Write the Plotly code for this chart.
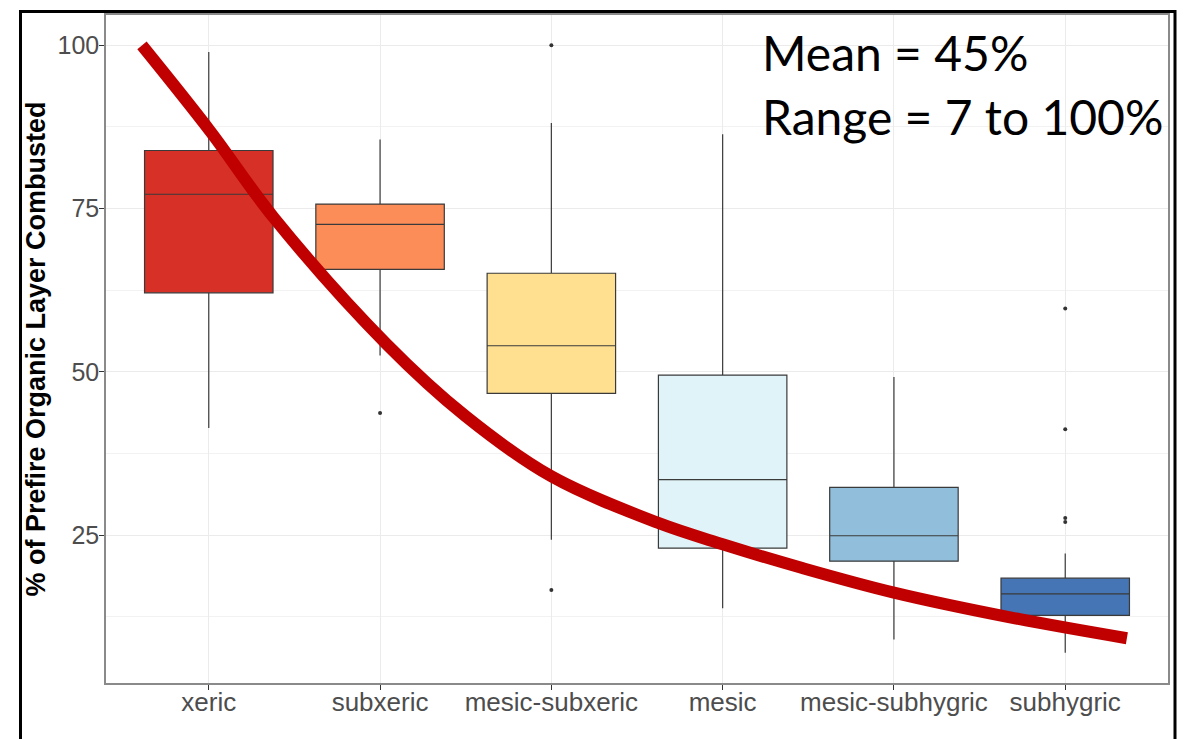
import plotly.graph_objects as go

categories = ["xeric", "subxeric", "mesic-subxeric", "mesic", "mesic-subhygric", "subhygric"]
q1 = [62.1, 65.7, 46.7, 23.0, 21.0, 12.7]
median = [77.2, 72.6, 54.0, 33.5, 24.9, 16.0]
q3 = [83.9, 75.7, 65.1, 49.5, 32.3, 18.4]
lower_whisker = [41.4, 52.5, 24.3, 13.8, 9.0, 7.0]
upper_whisker = [99.0, 85.6, 88.1, 86.4, 49.2, 22.2]
outliers = [[], [43.7], [100.0, 16.6], [], [], [59.7, 41.2, 27.6, 27.0]]
fill_colors = ["#D73027", "#FC8D59", "#FEE090", "#E0F3F8", "#91BFDB", "#4575B4"]

# fitted curve (x in category-position units)
curve_x = [-0.39, 0.01, 0.38, 1.04, 1.5, 2.0, 2.62, 3.0, 3.46, 4.0, 4.7, 5.36]
curve_y = [100.0, 86.8, 73.6, 54.2, 43.2, 34.0, 26.9, 23.6, 20.0, 16.2, 12.3, 9.2]

y_ticks = [25, 50, 75, 100]
y_minor = [12.5, 37.5, 62.5, 87.5]

fig = go.Figure()
for i, cat in enumerate(categories):
    fig.add_trace(go.Box(
        x=[i], q1=[q1[i]], median=[median[i]], q3=[q3[i]],
        lowerfence=[lower_whisker[i]], upperfence=[upper_whisker[i]],
        width=0.75, whiskerwidth=0, fillcolor=fill_colors[i],
        line=dict(color="#3a3a3a", width=1.2), boxpoints=False,
        name=cat, showlegend=False,
    ))
    if outliers[i]:
        fig.add_trace(go.Scatter(
            x=[i] * len(outliers[i]), y=outliers[i], mode="markers",
            marker=dict(color="#333333", size=4), showlegend=False,
        ))

fig.add_trace(go.Scatter(
    x=curve_x, y=curve_y, mode="lines",
    line=dict(color="#C00000", width=12, shape="spline", smoothing=1.0),
    showlegend=False,
))

# page body has an 8px default margin; size the figure so it fits the window
OFF = 8
W, H = 1186 - OFF, 739 - OFF
ml, mr, mt, mb = 98, 18, 5, 56
pw, ph = W - ml - mr, H - mt - mb

def px(x_screen):
    return (x_screen - OFF - ml) / pw

def py(y_screen):
    return (H - mb - (y_screen - OFF)) / ph

fig.update_layout(
    width=W, height=H,
    margin=dict(l=ml, r=mr, t=mt, b=mb, pad=0),
    paper_bgcolor="white", plot_bgcolor="white",
    boxmode="overlay",
    font=dict(family="Liberation Sans, Arial, sans-serif"),
    xaxis=dict(
        range=[-0.6, 5.6], tickmode="array", tickvals=list(range(len(categories))),
        ticktext=categories, showgrid=True, gridcolor="#EBEBEB", gridwidth=1,
        zeroline=False, showline=True, mirror=True, linecolor="#8a8a8a", linewidth=1.5,
        ticks="outside", ticklen=5, tickcolor="#333333", tickwidth=1,
        ticklabelstandoff=-10,
        tickfont=dict(size=26, color="#4D4D4D"),
    ),
    yaxis=dict(
        range=[2.35, 104.65], tickmode="array", tickvals=y_ticks,
        showgrid=True, gridcolor="#EBEBEB", gridwidth=1,
        minor=dict(tickmode="array", tickvals=y_minor, showgrid=True, gridcolor="#F2F2F2", gridwidth=1, ticks=""),
        zeroline=False, showline=True, mirror=True, linecolor="#8a8a8a", linewidth=1.5,
        ticks="outside", ticklen=5, tickcolor="#333333", tickwidth=1,
        ticklabelstandoff=-5,
        tickfont=dict(size=25, color="#4D4D4D"),
        title=dict(text="<b>% of Prefire Organic Layer Combusted</b>",
                   font=dict(size=27, color="black"), standoff=4),
    ),
)

# outer black frame
x0, x1 = px(20.5), px(1175)
yt, yb = py(9.5), py(780)
fig.add_shape(type="path", xref="paper", yref="paper",
              path=f"M {x0} {yb} L {x0} {yt} L {x1} {yt} L {x1} {yb}",
              line=dict(color="black", width=3))

fig.add_annotation(text="Mean = 45%", xref="paper", yref="paper",
                   x=px(760), y=py(51), xanchor="left", yanchor="middle",
                   showarrow=False, font=dict(family="Lato, sans-serif", size=48, color="black"))
fig.add_annotation(text="Range = 7 to 100%", xref="paper", yref="paper",
                   x=px(760), y=py(114.5), xanchor="left", yanchor="middle",
                   showarrow=False, font=dict(family="Lato, sans-serif", size=48, color="black"))

fig.write_html("out.html")
